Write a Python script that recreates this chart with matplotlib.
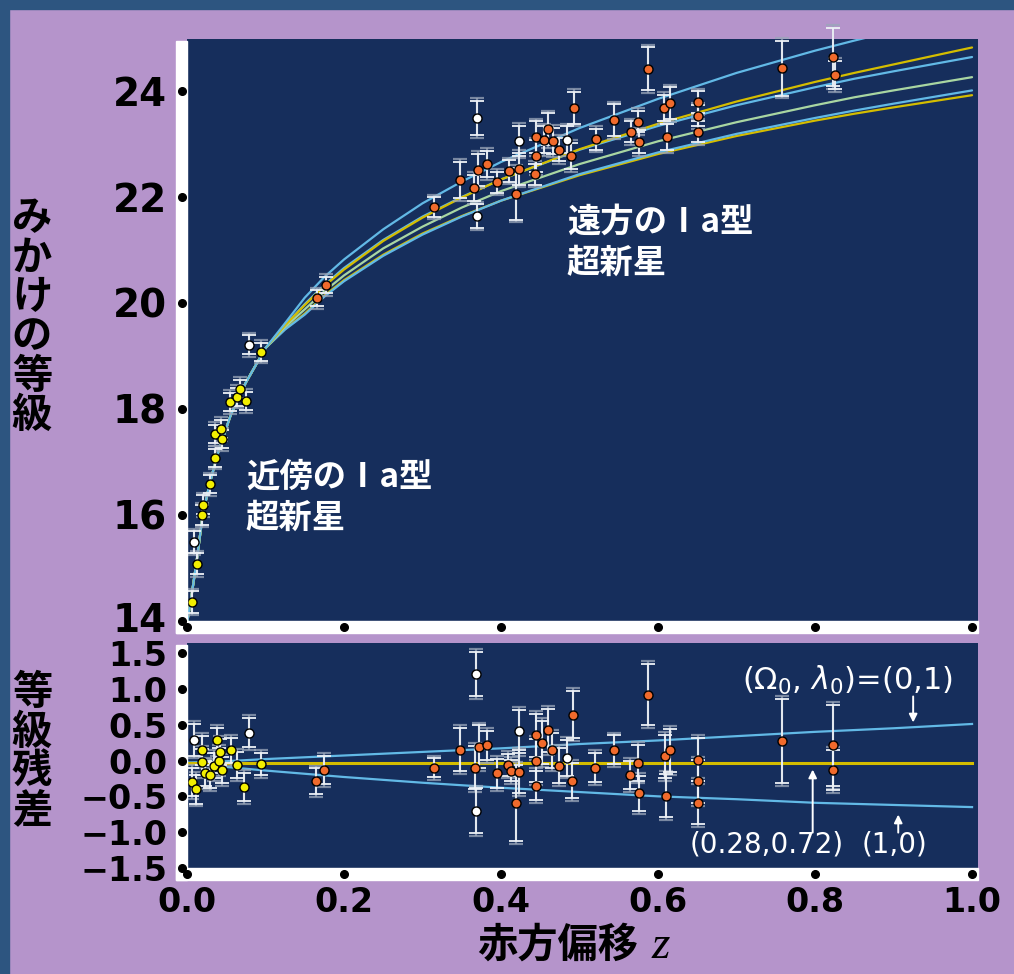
#!/usr/bin/env python3
"""Hubble diagram of type Ia supernovae with magnitude residuals (Japanese labels)."""

import matplotlib
matplotlib.use("Agg")
import matplotlib.pyplot as plt
from matplotlib.patches import Rectangle

# ---------------------------------------------------------------- data
# model curves, upper panel (apparent magnitude vs redshift)
CURVE_Z = [0.0005, 0.006, 0.0125, 0.02, 0.029, 0.04, 0.056, 0.075, 0.1, 0.125,
           0.15, 0.175, 0.2, 0.25, 0.3, 0.35, 0.4, 0.5, 0.6, 0.7, 0.8, 0.85, 0.9, 1.0]
LOW_PATH = [14.0, 14.5, 15.15, 16.0, 16.6, 17.2, 17.9, 18.5, 19.15]
M_0_1 = LOW_PATH + [19.62, 20.10, 20.49, 20.82, 21.39, 21.88, 22.29, 22.66, 23.30,
                    23.85, 24.34, 24.76, 24.95, 25.13, 25.48]
M_0_0 = LOW_PATH + [19.58, 19.96, 20.32, 20.63, 21.17, 21.61, 21.99, 22.33, 22.90,
                    23.38, 23.80, 24.17, 24.34, 24.50, 24.82]
M_05_05 = LOW_PATH + [19.58, 19.98, 20.34, 20.66, 21.19, 21.63, 22.00, 22.33, 22.89,
                      23.34, 23.73, 24.07, 24.23, 24.37, 24.64]
M_1_0 = LOW_PATH + [19.55, 19.88, 20.22, 20.52, 21.03, 21.44, 21.80, 22.11, 22.62,
                    23.05, 23.41, 23.73, 23.88, 24.01, 24.26]
M_15_m05 = LOW_PATH + [19.50, 19.78, 20.12, 20.41, 20.89, 21.29, 21.63, 21.93, 22.43,
                       22.84, 23.19, 23.49, 23.63, 23.76, 24.01]
M_2_0 = LOW_PATH + [19.51, 19.80, 20.14, 20.43, 20.91, 21.31, 21.64, 21.93, 22.41,
                    22.81, 23.15, 23.44, 23.57, 23.69, 23.92]

# model curves, lower panel (residual relative to (0.28, 0.72))
RES_Z = [0.0, 0.02, 0.05, 0.1, 0.2, 0.3, 0.4, 0.5, 0.6, 0.7, 0.8, 0.9, 1.0]
RES_FLAT = [-0.03] * len(RES_Z)
RES_0_1 = [-0.03, -0.02, -0.01, 0.02, 0.07, 0.12, 0.17, 0.23, 0.28, 0.34, 0.40, 0.45, 0.51]
RES_1_0 = [-0.03, -0.05, -0.09, -0.14, -0.23, -0.31, -0.38, -0.44, -0.50, -0.54, -0.59, -0.62, -0.65]

# upper panel points
NEAR_Z = [0.007, 0.013, 0.019, 0.020, 0.029, 0.036, 0.036, 0.043, 0.045, 0.055, 0.064, 0.068, 0.075, 0.094]
NEAR_M = [14.36, 15.08, 16.00, 16.19, 16.58, 17.08, 17.53, 17.62, 17.43, 18.13, 18.23, 18.38, 18.15, 19.08]
NEAR_E = [0.20, 0.20, 0.18, 0.18, 0.17, 0.17, 0.17, 0.17, 0.17, 0.17, 0.17, 0.17, 0.17, 0.17]

WHITE_Z = [0.009, 0.079, 0.369, 0.369, 0.423, 0.484]
WHITE_M = [15.49, 19.21, 23.49, 21.64, 23.06, 23.08]
WHITE_E = [0.20, 0.18, 0.32, 0.22, 0.28, 0.25]

FAR_Z = [0.165, 0.177, 0.315, 0.348, 0.366, 0.371, 0.382, 0.395, 0.410, 0.419, 0.423, 0.443,
         0.445, 0.445, 0.455, 0.460, 0.466, 0.474, 0.489, 0.493, 0.521, 0.544, 0.566, 0.575,
         0.576, 0.587, 0.608, 0.615, 0.611, 0.651, 0.651, 0.651, 0.758, 0.823, 0.825]
FAR_M = [20.09, 20.34, 21.81, 22.32, 22.17, 22.51, 22.62, 22.28, 22.49, 22.06, 22.53, 22.43,
         22.77, 23.13, 23.08, 23.28, 23.06, 22.89, 22.77, 23.68, 23.09, 23.45, 23.23, 23.42,
         23.04, 24.42, 23.68, 23.77, 23.13, 23.79, 23.53, 23.23, 24.43, 24.64, 24.30]
FAR_E = [0.15, 0.15, 0.18, 0.34, 0.25, 0.30, 0.25, 0.20, 0.20, 0.49, 0.30, 0.20,
         0.30, 0.30, 0.25, 0.30, 0.25, 0.22, 0.25, 0.30, 0.20, 0.30, 0.20, 0.20,
         0.22, 0.40, 0.25, 0.30, 0.25, 0.20, 0.20, 0.20, 0.52, 0.55, 0.27]

# lower panel points
RNEAR_Z = [0.006, 0.011, 0.019, 0.019, 0.023, 0.029, 0.035, 0.038, 0.041, 0.042, 0.045, 0.056, 0.064, 0.073, 0.094]
RNEAR_R = [-0.30, -0.40, 0.14, -0.02, -0.18, -0.20, -0.07, 0.28, 0.00, 0.12, -0.13, 0.14, -0.06, -0.37, -0.05]
RNEAR_E = [0.20, 0.20, 0.20, 0.18, 0.18, 0.18, 0.18, 0.18, 0.18, 0.18, 0.18, 0.18, 0.18, 0.20, 0.15]

RWHITE_Z = [0.009, 0.079, 0.368, 0.368, 0.423, 0.484]
RWHITE_R = [0.29, 0.39, 1.21, -0.70, 0.41, 0.04]
RWHITE_E = [0.22, 0.20, 0.31, 0.31, 0.30, 0.25]

RFAR_Z = [0.164, 0.174, 0.315, 0.348, 0.367, 0.372, 0.382, 0.395, 0.409, 0.413, 0.419, 0.423,
          0.445, 0.445, 0.445, 0.452, 0.460, 0.465, 0.474, 0.490, 0.492, 0.520, 0.544, 0.564,
          0.574, 0.576, 0.587, 0.609, 0.615, 0.610, 0.651, 0.651, 0.651, 0.758, 0.823, 0.823]
RFAR_R = [-0.29, -0.13, -0.10, 0.15, -0.10, 0.19, 0.21, -0.18, -0.06, -0.14, -0.59, -0.16,
          0.35, 0.00, -0.35, 0.25, 0.42, 0.14, -0.07, -0.28, 0.64, -0.10, 0.15, -0.20,
          -0.03, -0.46, 0.92, 0.06, 0.14, -0.49, 0.01, -0.29, -0.59, 0.27, 0.21, -0.13]
RFAR_E = [0.18, 0.20, 0.13, 0.30, 0.30, 0.30, 0.20, 0.20, 0.15, 0.15, 0.53, 0.30,
          0.30, 0.30, 0.20, 0.30, 0.30, 0.25, 0.25, 0.25, 0.33, 0.20, 0.20, 0.20,
          0.25, 0.25, 0.43, 0.30, 0.30, 0.30, 0.30, 0.30, 0.30, 0.59, 0.57, 0.28]

TOP_YTICKS = [14, 16, 18, 20, 22, 24]
TOP_YLABELS = ["14", "16", "18", "20", "22", "24"]
RES_YTICKS = [-1.5, -1.0, -0.5, 0.0, 0.5, 1.0, 1.5]
RES_YLABELS = ["\u22121.5", "\u22121.0", "\u22120.5", "0.0", "0.5", "1.0", "1.5"]
XTICKS = [0.0, 0.2, 0.4, 0.6, 0.8, 1.0]
XLABELS = ["0.0", "0.2", "0.4", "0.6", "0.8", "1.0"]

# ---------------------------------------------------------------- style
W, H = 1014, 974
LAVENDER = "#b594cb"
BORDER = "#2d5580"
NAVY = "#162e5c"
CYAN = "#62b9e6"
YELLOW = "#d4bd00"
GREEN = "#a9d6a2"
ORANGE = "#f06a2c"
PT_YELLOW = "#f2ee00"
JP = ["Noto Sans CJK JP", "DejaVu Sans"]


def fx(px):
    return px / W


def fy(py):
    return 1 - py / H


fig = plt.figure(figsize=(W / 100, H / 100), dpi=100, facecolor=LAVENDER)
fig.add_artist(Rectangle((0, fy(9)), 1, 9 / H, transform=fig.transFigure, color=BORDER, zorder=0))
fig.add_artist(Rectangle((0, 0), fx(9), 1, transform=fig.transFigure, color=BORDER, zorder=0))

ax_top = fig.add_axes([fx(187), fy(621), fx(978 - 187), (621 - 39) / H])
ax_res = fig.add_axes([fx(187), fy(868), fx(978 - 187), (868 - 643) / H])


def frame(ax, top_px, height_px):
    ax.set_facecolor(NAVY)
    for s in ax.spines.values():
        s.set_visible(False)
    w_ax = 978 - 187
    ax.add_patch(Rectangle((-11 / w_ax, -12 / height_px), 11 / w_ax, 1 + 12 / height_px - top_px / height_px,
                           transform=ax.transAxes, color="white", clip_on=False, zorder=5))
    ax.add_patch(Rectangle((-11 / w_ax, -12 / height_px), 1 + 11 / w_ax, 12 / height_px,
                           transform=ax.transAxes, color="white", clip_on=False, zorder=5))
    ax.plot([-5.5 / w_ax] * len(ax.get_yticks()), ax.get_yticks(), "o", ms=5.5, color="black",
            transform=ax.get_yaxis_transform(), clip_on=False, zorder=6)
    ax.plot(XTICKS, [-6 / height_px] * len(XTICKS), "o", ms=5.5, color="black",
            transform=ax.get_xaxis_transform(), clip_on=False, zorder=6)
    ax.tick_params(length=0)


def points(ax, z, v, e, color, extra):
    ax.errorbar(z, v, yerr=[x + extra for x in e], fmt="none", ecolor="#9aa6b9", elinewidth=1.6,
                capsize=5, capthick=1.6, alpha=0.75, zorder=3, clip_on=False)
    ax.errorbar(z, v, yerr=e, fmt="none", ecolor="#eef2f7", elinewidth=1.3,
                capsize=5, capthick=1.3, zorder=3.5, clip_on=False)
    ax.plot(z, v, "o", ls="none", ms=6.5, mfc=color, mec="black", mew=1.0, zorder=4)


# ---------------------------------------------------------------- upper panel
ax = ax_top
ax.set_xlim(0, 1.0076)
ax.set_ylim(14, 24.98)
ax.set_yticks(TOP_YTICKS)
ax.set_xticks(XTICKS)
ax.set_xticklabels([])
ax.set_yticklabels([])
frame(ax, 2, 621 - 39)
for t, lab in zip(TOP_YTICKS, TOP_YLABELS):
    # the lowest label sits a little higher so it clears the residual panel labels
    ax.text(-20 / 791, t + (0.07 if t == 14 else 0.0), lab, transform=ax.get_yaxis_transform(),
            ha="right", va="center_baseline", fontsize=28, fontweight="bold", clip_on=False)

for m, col in [(M_2_0, YELLOW), (M_15_m05, CYAN), (M_1_0, GREEN),
               (M_05_05, CYAN), (M_0_0, YELLOW), (M_0_1, CYAN)]:
    ax.plot(CURVE_Z, m, color=col, lw=1.6, zorder=2, solid_capstyle="round")

points(ax, FAR_Z, FAR_M, FAR_E, ORANGE, 0.05)
points(ax, NEAR_Z, NEAR_M, NEAR_E, PT_YELLOW, 0.05)
points(ax, WHITE_Z, WHITE_M, WHITE_E, "white", 0.05)

ax.text(0.075, 17.02, "近傍のⅠa型\n超新星", color="white", fontsize=24, fontweight="bold",
        family=JP, ha="left", va="top", linespacing=1.3, zorder=7)
ax.text(0.484, 21.83, "遠方のⅠa型\n超新星", color="white", fontsize=24, fontweight="bold",
        family=JP, ha="left", va="top", linespacing=1.3, zorder=7)

# ---------------------------------------------------------------- residual panel
ax = ax_res
ax.set_xlim(0, 1.0076)
ax.set_ylim(-1.5, 1.64)
ax.set_yticks(RES_YTICKS)
ax.set_yticklabels(RES_YLABELS, fontsize=24, fontweight="bold")
ax.set_xticks(XTICKS)
ax.set_xticklabels(XLABELS, fontsize=24, fontweight="bold")
ax.tick_params(axis="y", pad=14)
ax.tick_params(axis="x", pad=13)
frame(ax, 2, 868 - 643)

ax.plot(RES_Z, RES_0_1, color=CYAN, lw=1.6, zorder=2)
ax.plot(RES_Z, RES_1_0, color=CYAN, lw=1.6, zorder=2)
ax.plot(RES_Z, RES_FLAT, color=YELLOW, lw=2.2, zorder=2)

points(ax, RFAR_Z, RFAR_R, RFAR_E, ORANGE, 0.04)
points(ax, RNEAR_Z, RNEAR_R, RNEAR_E, PT_YELLOW, 0.04)
points(ax, RWHITE_Z, RWHITE_R, RWHITE_E, "white", 0.04)

ax.text(0.841, 1.117, r"($\Omega_0$, $\lambda_0$)=(0,1)", color="white", fontsize=22,
        ha="center", va="center", zorder=7)
ax.text(0.739, -1.173, "(0.28,0.72)", color="white", fontsize=20, ha="center", va="center", zorder=7)
ax.text(0.901, -1.173, "(1,0)", color="white", fontsize=20, ha="center", va="center", zorder=7)
arrow = dict(arrowstyle="-|>", color="white", lw=1.4, mutation_scale=12, shrinkA=0, shrinkB=0)
ax.annotate("", xy=(0.925, 0.531), xytext=(0.925, 0.894), arrowprops=arrow, zorder=7)
ax.annotate("", xy=(0.797, -0.126), xytext=(0.797, -1.006), arrowprops=arrow, zorder=7)
ax.annotate("", xy=(0.906, -0.754), xytext=(0.906, -1.006), arrowprops=arrow, zorder=7)

# ---------------------------------------------------------------- axis titles
fig.text(fx(32), fy(317), "\n".join("みかけの等級"), family=JP, fontsize=29, fontweight="bold",
         ha="center", va="center", linespacing=0.95)
fig.text(fx(32), fy(752), "\n".join("等級残差"), family=JP, fontsize=29, fontweight="bold",
         ha="center", va="center", linespacing=0.95)
fig.text(fx(558), fy(945), "赤方偏移", family=JP, fontsize=29, fontweight="bold",
         ha="center", va="center")
fig.text(fx(652), fy(947), "z", family="Liberation Serif", style="italic", fontsize=34,
         ha="left", va="center")

fig.savefig("out.png", dpi=100, facecolor=LAVENDER)
